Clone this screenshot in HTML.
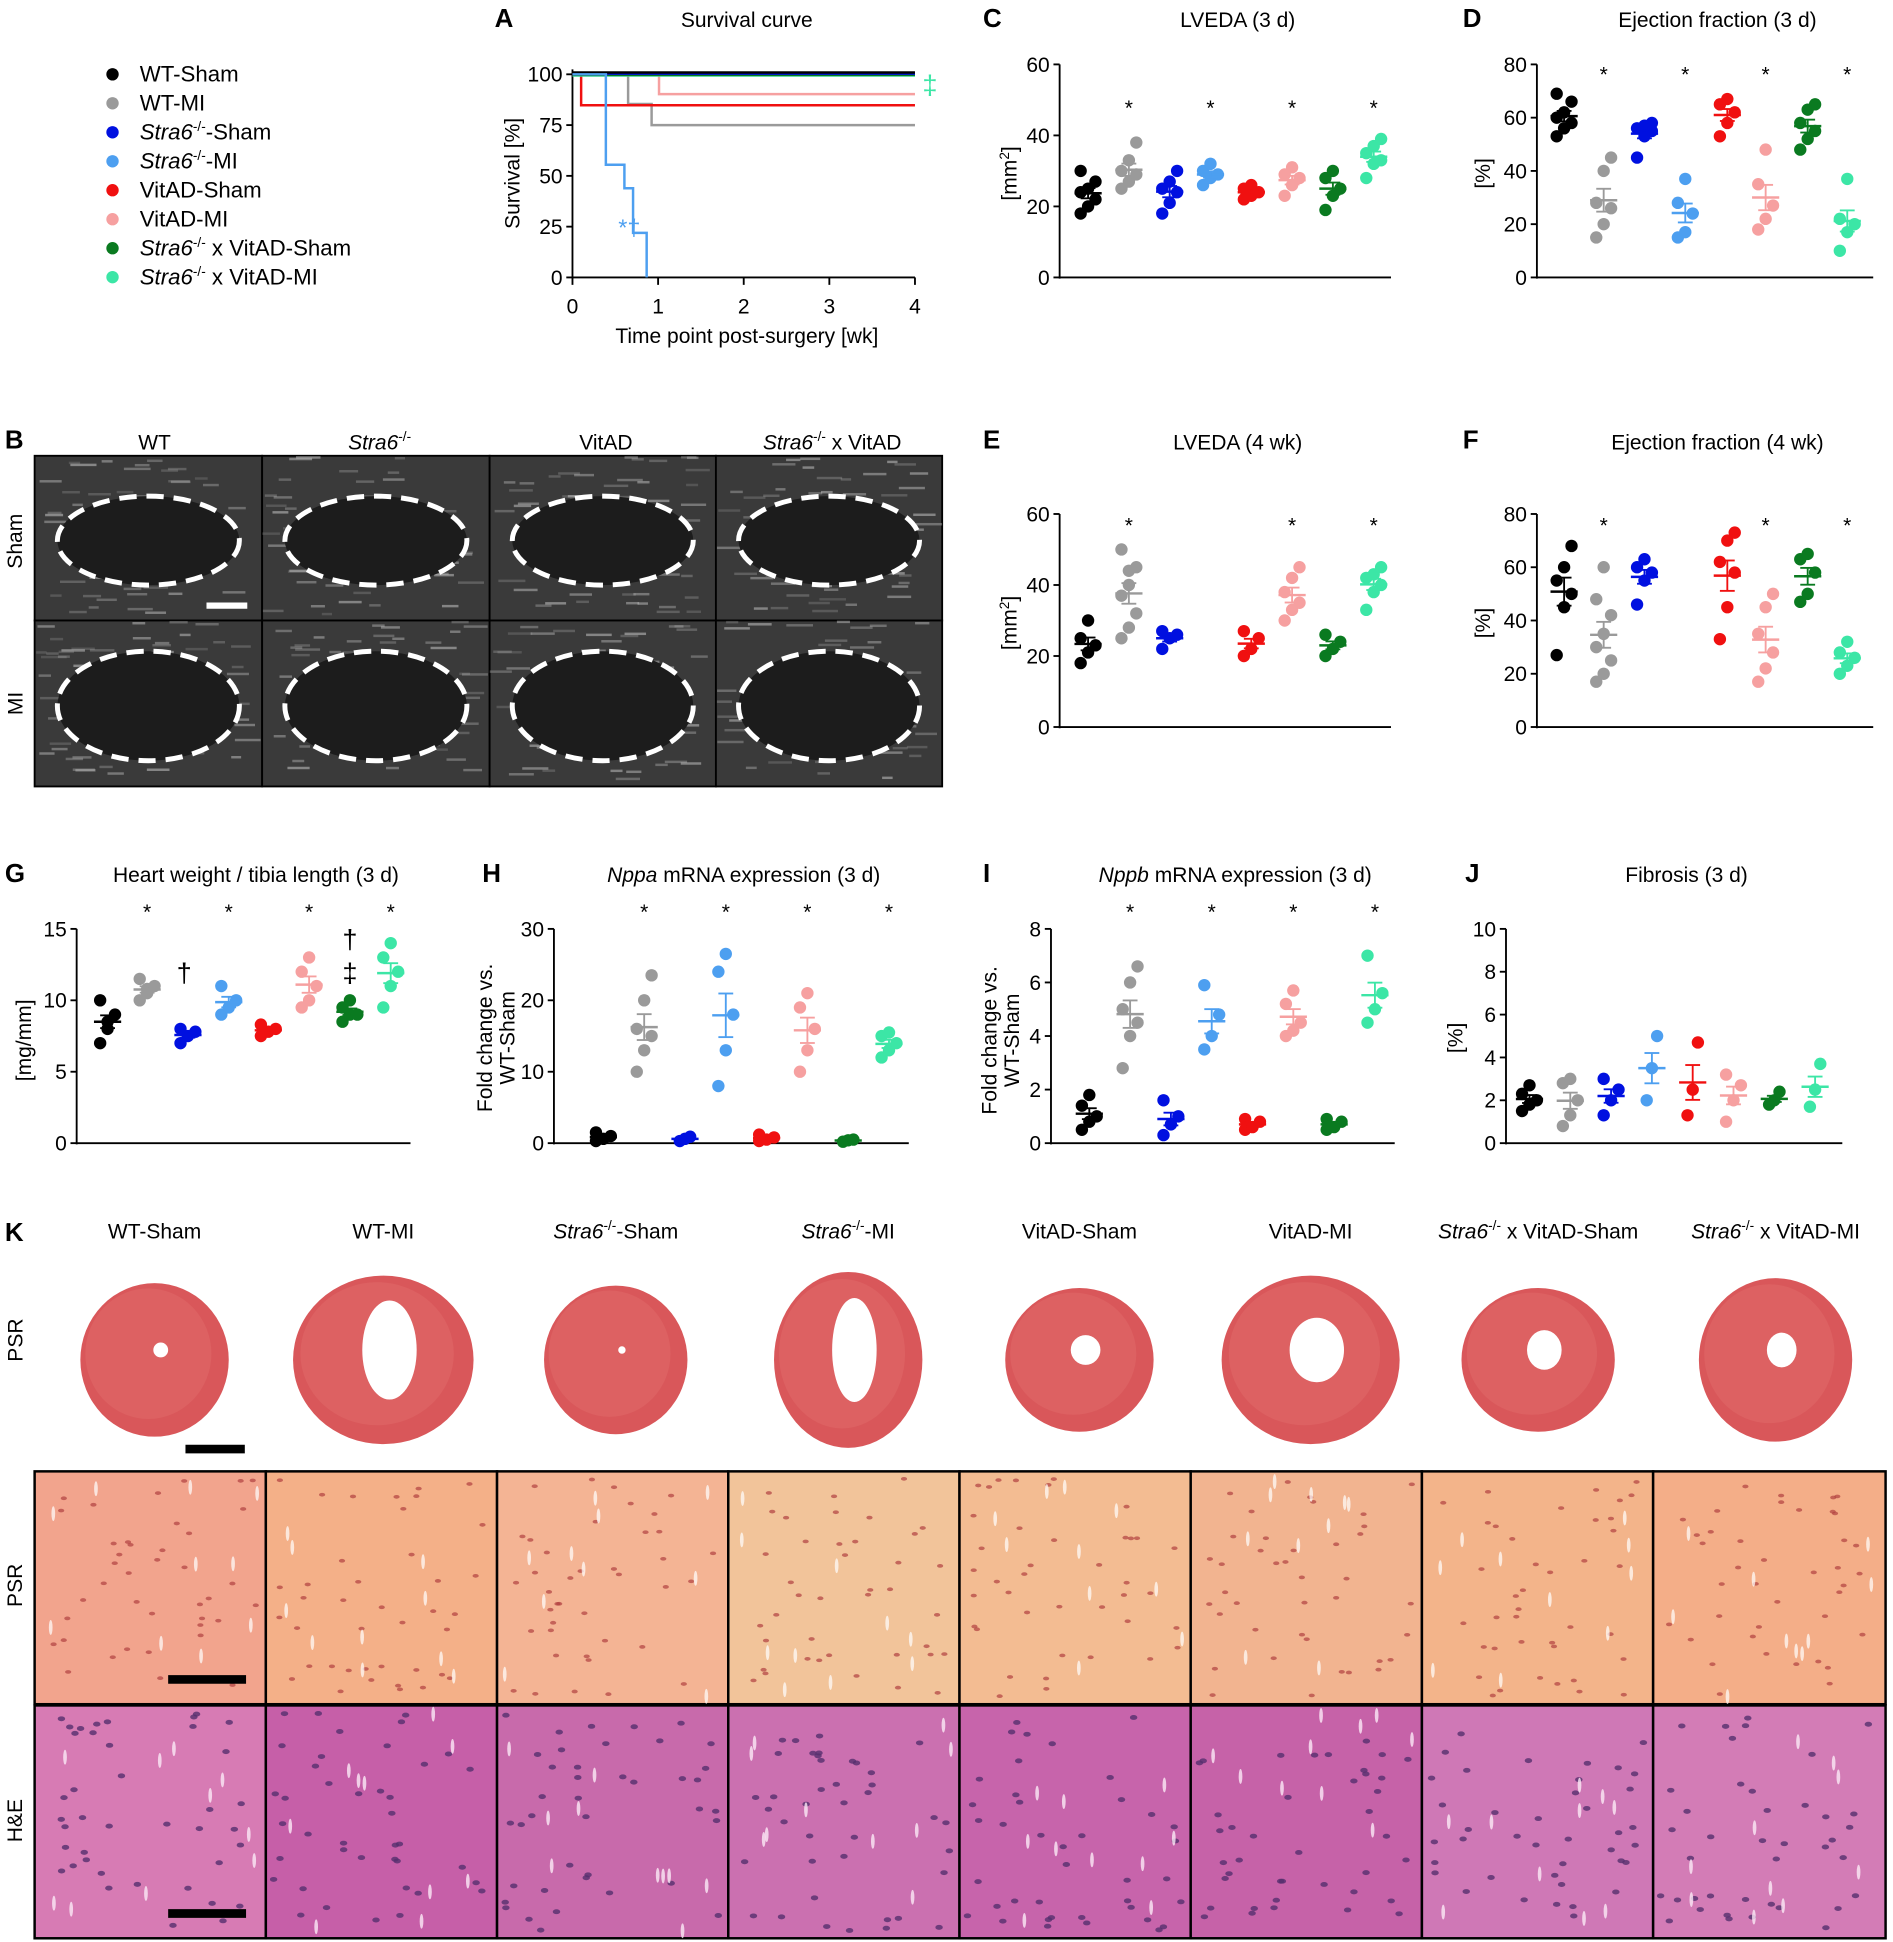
<!DOCTYPE html>
<html><head><meta charset="utf-8"><style>
html,body{margin:0;padding:0;background:#fff;width:1893px;height:1942px;overflow:hidden}
svg{display:block}
text{font-family:"Liberation Sans",Arial,sans-serif}
</style></head><body>
<svg id="s" width="1893" height="1942" viewBox="0 0 1531 1568" preserveAspectRatio="none" xmlns="http://www.w3.org/2000/svg"></svg>
<script>
const C={k:'#000',g:'#9a9a9a',b:'#0010e0',l:'#4d9ff0',r:'#f01010',p:'#f6a0a0',d:'#0a7a20',m:'#3ce6a6'};
const order=['k','g','b','l','r','p','d','m'];
let o='';
function T(x,y,s,sz,anc,extra){o+=`<text x="${x}" y="${y}" font-size="${sz||17}" text-anchor="${anc||'start'}" ${extra||''}>${s}</text>`;}
function L(x1,y1,x2,y2,c,w){o+=`<line x1="${x1}" y1="${y1}" x2="${x2}" y2="${y2}" stroke="${c||'#000'}" stroke-width="${w||1.5}"/>`;}
const leg=['WT-Sham','WT-MI','<tspan font-style="italic">Stra6</tspan><tspan font-size="11" dy="-7">-/-</tspan><tspan dy="7">-Sham</tspan>','<tspan font-style="italic">Stra6</tspan><tspan font-size="11" dy="-7">-/-</tspan><tspan dy="7">-MI</tspan>','VitAD-Sham','VitAD-MI','<tspan font-style="italic">Stra6</tspan><tspan font-size="11" dy="-7">-/-</tspan><tspan dy="7"> x VitAD-Sham</tspan>','<tspan font-style="italic">Stra6</tspan><tspan font-size="11" dy="-7">-/-</tspan><tspan dy="7"> x VitAD-MI</tspan>'];
order.forEach((c,i)=>{const y=60+i*23.4;o+=`<circle cx="91" cy="${y}" r="5" fill="${C[c]}"/>`;T(113,y+6,leg[i],18);});
[['A',400,22],['C',795,22],['D',1183,22],['B',4,362],['E',795,362],['F',1183,362],['G',4,712],['H',390,712],['I',795,712],['J',1185,712],['K',4,1002]].forEach(a=>T(a[1],a[2],a[0],21,'start','font-weight="bold"'));
function axis(x0,y0,y1,x1,ticks,vmax){L(x0,y0+1,x0,y1);L(x0,y0,x1,y0);ticks.forEach(t=>{const y=y0-(y0-y1)*t/vmax;L(x0-5,y,x0,y);T(x0-8,y+6,t,17,'end');});}
T(604,22,'Survival curve',17,'middle');
L(463,56,463,225);L(463,224,740,224);
[0,25,50,75,100].forEach(t=>{const y=224-164*t/100;L(458,y,463,y);T(455,y+6,t,17,'end');});
[0,1,2,3,4].forEach(t=>{const x=463+69.25*t;L(x,224,x,230);T(x,253,t,17,'middle');});
T(604,277,'Time point post-surgery [wk]',17,'middle');
T(420,140,'Survival [%]',17,'middle','transform="rotate(-90 420 140)"');
function step(pts,c,w){o+=`<polyline points="${pts}" fill="none" stroke="${c}" stroke-width="${w||2}"/>`;}
step('463,60 508,60 508,84 527,84 527,101 740,101',C.g);
step('463,60 470,60 470,85 740,85',C.r);
step('463,60 533,60 533,76 740,76',C.p);
step('463,61 740,61',C.m);step('463,60.5 740,60.5',C.d);step('463,59.5 740,59.5',C.b);step('463,58.5 740,58.5',C.k);
step('463,60 490,60 490,133 505,133 505,152 512,152 512,188 523,188 523,224',C.l);
T(500,190,'*†',19,'start',`fill="${C.l}"`);
T(746,76,'‡',22,'start',`fill="${C.m}"`);
function sc(x0,y0,y1,x1,vmax,ticks,xs,data,stars,title,ty,ylab){
 axis(x0,y0,y1,x1,ticks,vmax);
 o+=`<text x="${(x0+x1)/2+10}" y="${ty}" font-size="17" text-anchor="middle">${title}</text>`;
 if(ylab)o+=ylab;
 order.forEach((c,i)=>{const d=data[i];if(!d||!d.length)return;const x=xs[i];const Y=v=>y0-(y0-y1)*v/vmax;
  d.forEach((v,j)=>{const off=((j%3)-1)*6*(d.length>3?1:0.7);o+=`<circle cx="${x+off}" cy="${Y(v)}" r="5" fill="${C[c]}"/>`;});
  const m=d.reduce((a,b)=>a+b)/d.length;let sd=Math.sqrt(d.reduce((a,b)=>a+(b-m)*(b-m),0)/d.length)/Math.sqrt(d.length);
  L(x-11,Y(m),x+11,Y(m),C[c],2);L(x-6,Y(m+sd),x+6,Y(m+sd),C[c],1.5);L(x-6,Y(m-sd),x+6,Y(m-sd),C[c],1.5);L(x,Y(m+sd),x,Y(m-sd),C[c],1.5);
 });
 stars.forEach(s=>T(s[0],s[1],s[2]||'*',s[3]||17,'middle'));
}
function yl(x,y,txt){return `<text x="${x}" y="${y}" font-size="17" text-anchor="middle" transform="rotate(-90 ${x} ${y})">${txt}</text>`;}
const xsC=[880,913,946,979,1012,1045,1078,1111],xsD=[1265,1297,1330,1363,1397,1428,1462,1494];
const mm='[mm<tspan font-size="11" dy="-6">2</tspan><tspan dy="6">]</tspan>';
sc(857,224,52,1125,60,[0,20,40,60],xsC,[[18,20,22,24,25,27,30],[25,27,29,30,33,38],[18,21,24,25,27,30],[26,28,29,30,32],[22,23,24,25,26],[23,26,28,29,31],[19,23,25,28,30],[28,32,33,35,37,39]],[[913,93],[979,93],[1045,93],[1111,93]],'LVEDA (3 d)',22,yl(822,140,mm));
sc(1243,224,52,1515,80,[0,20,40,60,80],xsD,[[53,56,58,60,62,66,69],[15,20,26,28,40,45],[45,53,55,56,57,58],[15,17,24,28,37],[53,58,62,65,67],[18,22,27,35,48],[48,52,55,58,63,65],[10,17,20,22,37]],[[1297,66],[1363,66],[1428,66],[1494,66]],'Ejection fraction (3 d)',22,yl(1205,140,'[%]'));
sc(857,587,415,1125,60,[0,20,40,60],xsC,[[18,21,23,25,30],[25,28,32,37,40,45,50,44],[22,25,26,27],[],[20,22,25,27],[30,33,35,38,42,45],[20,22,24,26],[33,38,40,42,43,45]],[[913,430],[1045,430],[1111,430]],'LVEDA (4 wk)',363,yl(822,503,mm));
sc(1243,587,415,1515,80,[0,20,40,60,80],xsD,[[27,45,50,55,60,68],[17,20,25,30,35,42,48,60],[46,55,58,60,63],[],[33,45,58,62,70,73],[17,22,28,35,45,50],[47,50,58,63,65],[20,23,26,28,32]],[[1297,430],[1428,430],[1494,430]],'Ejection fraction (4 wk)',363,yl(1205,503,'[%]'));
const xsG=[87,119,152,185,217,250,283,316];
sc(62,923,750,332,15,[0,5,10,15],xsG,[[7,8,9,10,8.5],[10,10.5,11,11.5,10.8],[7,7.5,7.8,8],[9,9.5,10,11],[7.5,7.8,8,8.3],[9.5,10,11,12,13],[8.5,9,9,9.5,10],[9.5,11,12,13,14]],[[119,742],[185,742],[250,742],[316,742],[149,793,'†',22],[283,766,'†',22],[283,793,'‡',22]],'Heart weight / tibia length (3 d)',712,yl(25,840,'[mg/mm]'));
const xsH=[488,521,554,587,620,653,686,719];
sc(448,923,750,735,30,[0,10,20,30],xsH,[[0.3,0.6,1,1.5],[10,13,15,16,20,23.5],[0.3,0.6,0.9],[8,13,18,24,26.5],[0.3,0.5,0.8,1.2],[10,13,16,19,21],[0.2,0.4,0.5],[12,13,14,15,15.5]],[[521,742],[587,742],[653,742],[719,742]],'<tspan font-style="italic">Nppa</tspan> mRNA expression (3 d)',712,yl(398,838,'Fold change vs.')+yl(416,838,'WT-Sham'));
const xsI=[881,914,947,980,1013,1046,1079,1112];
sc(850,923,750,1128,8,[0,2,4,6,8],xsI,[[0.5,0.8,1,1.4,1.8],[2.8,4,4.5,5,6,6.6],[0.3,0.7,1,1.6],[3.5,4,4.8,5.9],[0.5,0.6,0.8,0.9],[4,4.2,4.5,5.2,5.7],[0.5,0.6,0.8,0.9],[4.5,5,5.6,7]],[[914,742],[980,742],[1046,742],[1112,742]],'<tspan font-style="italic">Nppb</tspan> mRNA expression (3 d)',712,yl(806,840,'Fold change vs.')+yl(824,840,'WT-Sham'));
const xsJ=[1237,1270,1303,1336,1369,1402,1435,1468];
sc(1218,923,750,1490,10,[0,2,4,6,8,10],xsJ,[[1.5,1.8,2,2.3,2.7],[0.8,1.3,2,2.8,3],[1.3,2,2.5,3],[2,3.5,5],[1.3,2.5,4.7],[1,2,2.7,3.2],[1.8,2,2.4],[1.7,2.5,3.7]],[],'Fibrosis (3 d)',712,yl(1183,838,'[%]'));
const sup='<tspan font-style="italic">Stra6</tspan><tspan font-size="11" dy="-7">-/-</tspan><tspan dy="7">';
T(125,363,'WT',17,'middle');T(307,363,sup+'</tspan>',17,'middle');T(490,363,'VitAD',17,'middle');T(673,363,sup+' x VitAD</tspan>',17,'middle');
o+=yl(18,437,'Sham')+yl(18,568,'MI');
const bx=[28,212,396,579,762];
let s0=7;const rn=()=>{s0=(s0*9301+49297)%233280;return s0/233280;};
for(let r=0;r<2;r++)for(let c=0;c<4;c++){const x=bx[c],y=r?501:368,w=bx[c+1]-x,h=r?134:133;
 o+=`<rect x="${x}" y="${y}" width="${w}" height="${h}" fill="#3a3a3a" stroke="#000" stroke-width="1.5"/>`;
 for(let j=0;j<60;j++){o+=`<rect x="${x+rn()*(w-20)}" y="${y+rn()*(h-6)}" width="${8+rn()*14}" height="2" fill="#bbb" opacity="${0.2+rn()*0.4}"/>`;}
 o+=`<ellipse cx="${x+w/2}" cy="${y+h/2+2}" rx="${w*0.4}" ry="${h*(r?0.33:0.27)}" fill="#1c1c1c" stroke="#fff" stroke-width="4" stroke-dasharray="14 8"/>`;}
L(167,489,200,489,'#fff',5);
const kl=['WT-Sham','WT-MI',sup+'-Sham</tspan>',sup+'-MI</tspan>','VitAD-Sham','VitAD-MI',sup+' x VitAD-Sham</tspan>',sup+' x VitAD-MI</tspan>'];
const kx=[125,310,498,686,873,1060,1244,1436];
kl.forEach((s,i)=>T(kx[i],1000,s,17,'middle'));
o+=yl(18,1082,'PSR')+yl(18,1280,'PSR')+yl(18,1470,'H&amp;E');
const ks=[[60,62],[73,68],[58,60],[60,71],[60,58],[72,68],[62,58],[62,66]];
const holes=[[6,6],[22,40],[3,3],[18,42],[12,12],[22,26],[14,16],[12,14]];
kx.forEach((x,i)=>{o+=`<ellipse cx="${x}" cy="1098" rx="${ks[i][0]}" ry="${ks[i][1]}" fill="#d9575a"/><ellipse cx="${x-5}" cy="1093" rx="${ks[i][0]*0.85}" ry="${ks[i][1]*0.85}" fill="#e06868" opacity=".6"/><ellipse cx="${x+5}" cy="1090" rx="${holes[i][0]}" ry="${holes[i][1]}" fill="#fff"/>`;});
L(150,1170,198,1170,'#000',7);
const kb=[28,215,402,589,776,963,1150,1337,1525];
for(let i=0;i<8;i++){const x=kb[i],w=kb[i+1]-x;
 o+=`<rect x="${x}" y="1188" width="${w}" height="188" fill="${['#f2a48d','#f4b088','#f4b494','#f2c49a','#f3bc92','#f2b490','#f3b48a','#f4ae88'][i]}" stroke="#000" stroke-width="2"/>`;
 o+=`<rect x="${x}" y="1377" width="${w}" height="188" fill="${['#d77bb4','#c65fa8','#c86aab','#cb70b0','#c764ab','#c662a8','#cf78b6','#d37cb6'][i]}" stroke="#000" stroke-width="2"/>`;
 let s=i*97+13;const rnd=()=>{s=(s*9301+49297)%233280;return s/233280;};
 for(let j=0;j<40;j++){o+=`<ellipse cx="${x+6+rnd()*(w-12)}" cy="${1194+rnd()*176}" rx="2.5" ry="1.5" fill="#b04040" opacity=".7"/>`;o+=`<ellipse cx="${x+6+rnd()*(w-12)}" cy="${1383+rnd()*176}" rx="3" ry="2" fill="#55306e" opacity=".8"/>`;}
 for(let j=0;j<10;j++){o+=`<ellipse cx="${x+6+rnd()*(w-12)}" cy="${1194+rnd()*176}" rx="1.5" ry="6" fill="#fff" opacity=".7"/>`;o+=`<ellipse cx="${x+6+rnd()*(w-12)}" cy="${1383+rnd()*176}" rx="1.5" ry="6" fill="#fbeaf6" opacity=".8"/>`;}
}
L(136,1356,199,1356,'#000',7);L(136,1545,199,1545,'#000',7);
document.getElementById('s').innerHTML=o;
</script>
</body></html>
